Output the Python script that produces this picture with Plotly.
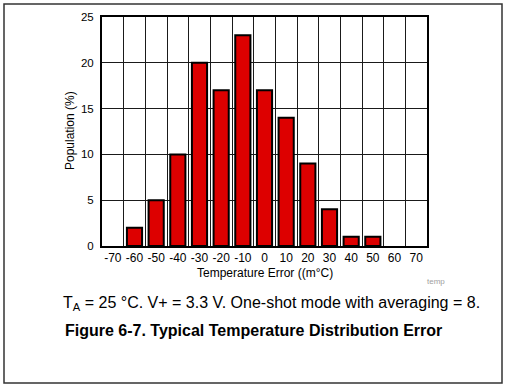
import plotly.graph_objects as go

# Data
temp_error = [-70, -60, -50, -40, -30, -20, -10, 0, 10, 20, 30, 40, 50, 60, 70]
population = [0, 2, 5, 10, 20, 17, 23, 17, 14, 9, 4, 1, 1, 0, 0]
tick_labels = [str(v) for v in temp_error]
y_ticks = [0, 5, 10, 15, 20, 25]

# category boundaries for vertical grid lines
boundaries = [(temp_error[i] + temp_error[i + 1]) / 2 for i in range(len(temp_error) - 1)]

W, H = 510, 385
L, R, T, B = 102, 83, 17, 139
pw = W - L - R
ph = H - T - B

def px(x):
    return (x - L) / pw

def py(y):
    return (H - B - y) / ph

FONT = "Liberation Sans, Arial, sans-serif"

fig = go.Figure()
fig.add_trace(go.Bar(
    x=temp_error, y=population, width=7,
    marker=dict(color="#DD0000",
                line=dict(color="black", width=[2 if v > 0 else 0 for v in population])),
    hoverinfo="skip",
))

fig.update_layout(
    width=W, height=H,
    margin=dict(l=L, r=R, t=T, b=B),
    paper_bgcolor="white", plot_bgcolor="white",
    showlegend=False,
    font=dict(family=FONT, size=11, color="black"),
    xaxis=dict(
        range=[-75, 75],
        tickmode="array", tickvals=temp_error, ticktext=tick_labels,
        showgrid=False, zeroline=False,
        showline=True, linecolor="black", linewidth=2, mirror=True,
        ticks="", tickfont=dict(size=12),
        minor=dict(tickmode="array", tickvals=boundaries, showgrid=True,
                   gridcolor="#1a1a1a", gridwidth=1, ticks=""),
    ),
    yaxis=dict(
        range=[0, 25], tickmode="array", tickvals=y_ticks,
        showgrid=True, gridcolor="#1a1a1a", gridwidth=1, zeroline=False,
        showline=True, linecolor="black", linewidth=2, mirror=True,
        ticks="", ticklabelstandoff=4, tickfont=dict(size=11.5),
    ),
)

ann = [
    dict(text="Population (%)", x=px(70), y=py(131), textangle=-90, font=dict(size=12)),
    dict(text="Temperature Error ((m°C)", x=px(265), y=py(273), font=dict(size=12)),
    dict(text="temp", x=px(436), y=py(281), font=dict(size=8, color="#a0a0a0")),
    dict(text="T<sub>A</sub> = 25 °C. V+ = 3.3 V. One-shot mode with averaging = 8.",
         x=px(271), y=py(303), font=dict(size=16)),
    dict(text="<b>Figure 6-7. Typical Temperature Distribution Error</b>",
         x=px(253), y=py(330), font=dict(size=16)),
]
for a in ann:
    fig.add_annotation(xref="paper", yref="paper", showarrow=False,
                       xanchor="center", yanchor="middle", **a)

# outer frame
fig.add_shape(type="rect", xref="paper", yref="paper",
              x0=px(4), x1=px(502), y0=py(383), y1=py(4),
              line=dict(color="#333333", width=1.5), layer="below")

fig.write_html("out.html", config={"displayModeBar": False},
               post_script="document.body.style.margin='0';document.body.style.overflow='hidden';")
